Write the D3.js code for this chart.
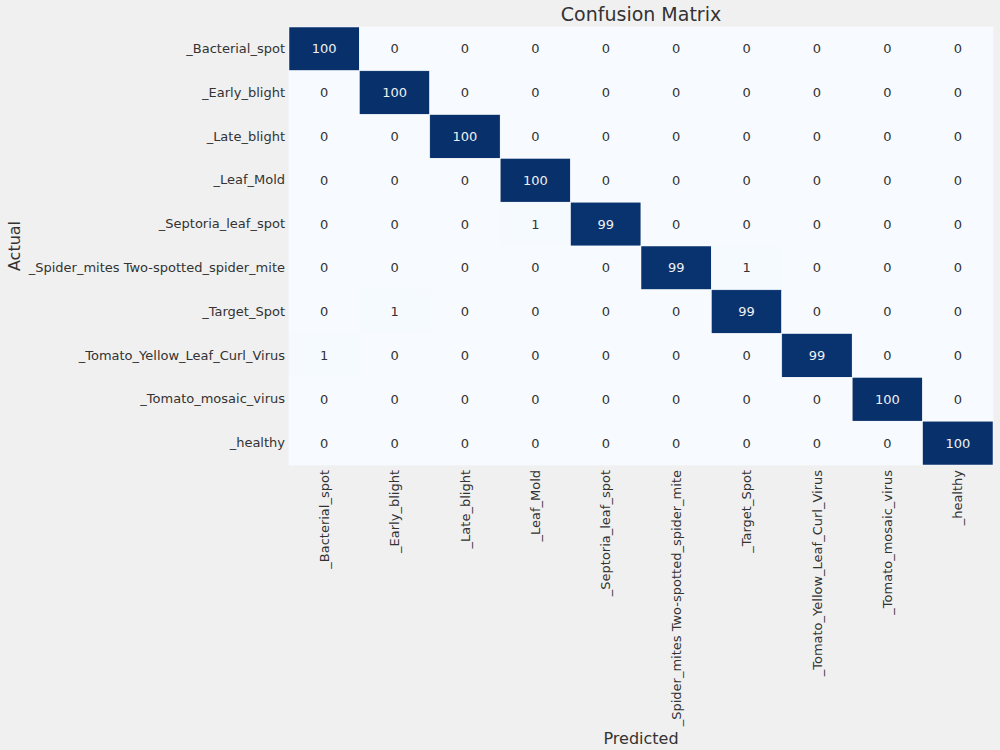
<!DOCTYPE html>
<html>
<head>
<meta charset="utf-8">
<script src="https://cdn.jsdelivr.net/npm/d3@7"></script>
<style>
body { margin: 0; background: #f0f0f0; }
svg { display: block; font-family: "DejaVu Sans", sans-serif; }
</style>
</head>
<body>
<script>
var classes = ["_Bacterial_spot", "_Early_blight", "_Late_blight", "_Leaf_Mold",
  "_Septoria_leaf_spot", "_Spider_mites Two-spotted_spider_mite", "_Target_Spot",
  "_Tomato_Yellow_Leaf_Curl_Virus", "_Tomato_mosaic_virus", "_healthy"];

// rows = actual, columns = predicted
var matrix = [
  [100, 0, 0, 0, 0, 0, 0, 0, 0, 0],
  [0, 100, 0, 0, 0, 0, 0, 0, 0, 0],
  [0, 0, 100, 0, 0, 0, 0, 0, 0, 0],
  [0, 0, 0, 100, 0, 0, 0, 0, 0, 0],
  [0, 0, 0, 1, 99, 0, 0, 0, 0, 0],
  [0, 0, 0, 0, 0, 99, 1, 0, 0, 0],
  [0, 1, 0, 0, 0, 0, 99, 0, 0, 0],
  [1, 0, 0, 0, 0, 0, 0, 99, 0, 0],
  [0, 0, 0, 0, 0, 0, 0, 0, 100, 0],
  [0, 0, 0, 0, 0, 0, 0, 0, 0, 100]
];

var margin = {top: 27, right: 7, bottom: 285, left: 289}
, width = 1000 - margin.left - margin.right
, height = 750 - margin.top - margin.bottom;

var cells = [];
matrix.forEach(function(row, i) {
  row.forEach(function(v, j) { cells.push({r: i, c: j, v: v}); });
});

var x = d3.scaleBand().domain(classes).range([0, width]);
var y = d3.scaleBand().domain(classes).range([0, height]);
var color = d3.scaleSequential(d3.interpolateBlues)
  .domain([0, d3.max(cells, function(d) { return d.v; })]);

var svg = d3.select('body').append('svg')
  .attr('width', 1000)
  .attr('height', 750);

var main = svg.append('g')
  .attr('transform', 'translate(' + margin.left + ',' + margin.top + ')');

main.selectAll('rect')
  .data(cells)
  .enter().append('rect')
  .attr('x', function(d) { return x(classes[d.c]); })
  .attr('y', function(d) { return y(classes[d.r]); })
  .attr('width', x.bandwidth())
  .attr('height', y.bandwidth())
  .attr('fill', function(d) { return color(d.v); })
  .attr('stroke', '#f7fbff')
  .attr('stroke-width', 0.5);

main.selectAll('text.annot')
  .data(cells)
  .enter().append('text')
  .attr('class', 'annot')
  .attr('x', function(d) { return x(classes[d.c]) + x.bandwidth() / 2; })
  .attr('y', function(d) { return y(classes[d.r]) + y.bandwidth() / 2; })
  .attr('dy', '0.35em')
  .attr('text-anchor', 'middle')
  .style('font-size', '13px')
  .attr('fill', function(d) { return d.v > 50 ? '#f0f0f0' : '#333333'; })
  .text(function(d) { return d.v; });

// y axis (actual)
var yAxis = main.append('g')
  .call(d3.axisLeft(y).tickSize(0).tickPadding(4));
yAxis.select('.domain').remove();
yAxis.selectAll('text')
  .style('font-size', '13px')
  .style('font-family', '"DejaVu Sans", sans-serif')
  .attr('fill', '#333333');

// x axis (predicted), rotated labels
var xAxis = main.append('g')
  .attr('transform', 'translate(0,' + height + ')')
  .call(d3.axisBottom(x).tickSize(0).tickPadding(0));
xAxis.select('.domain').remove();
xAxis.selectAll('text')
  .style('font-size', '13px')
  .style('font-family', '"DejaVu Sans", sans-serif')
  .attr('fill', '#333333')
  .attr('transform', 'rotate(-90)')
  .attr('x', -5)
  .attr('y', 0)
  .attr('dy', '0.35em')
  .style('text-anchor', 'end');

svg.append('text')
  .attr('x', margin.left + width / 2)
  .attr('y', 21)
  .attr('text-anchor', 'middle')
  .style('font-size', '19px')
  .attr('fill', '#333333')
  .text('Confusion Matrix');

svg.append('text')
  .attr('x', margin.left + width / 2)
  .attr('y', 744)
  .attr('text-anchor', 'middle')
  .style('font-size', '16px')
  .attr('fill', '#333333')
  .text('Predicted');

svg.append('text')
  .attr('transform', 'translate(20,' + (margin.top + height / 2) + ') rotate(-90)')
  .attr('text-anchor', 'middle')
  .style('font-size', '16px')
  .attr('fill', '#333333')
  .text('Actual');
</script>
</body>
</html>
